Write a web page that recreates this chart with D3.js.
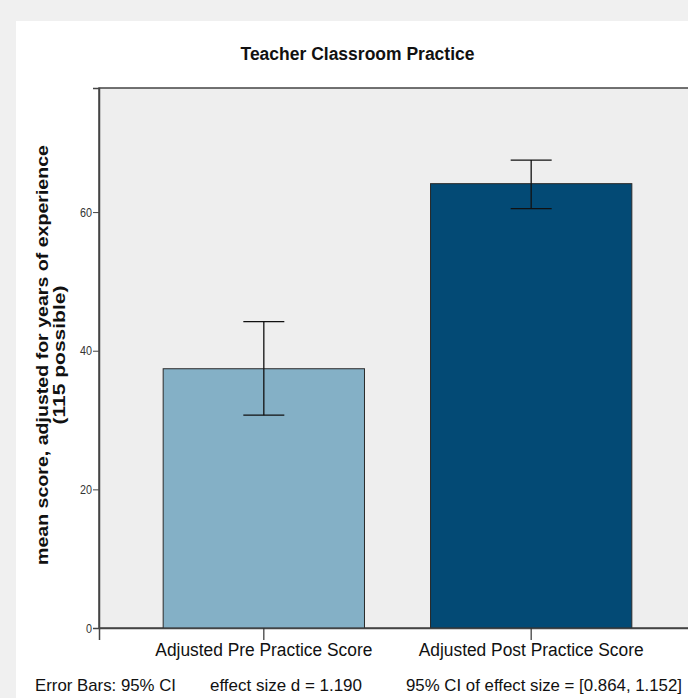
<!DOCTYPE html>
<html>
<head>
<meta charset="utf-8">
<script src="https://cdn.jsdelivr.net/npm/d3@7"></script>
<style>
body{margin:0;background:#f0f0f0;}
svg{display:block;}
text{font-family:"Liberation Sans Narrow","Arial Narrow","Liberation Sans",Arial,sans-serif;}
</style>
</head>
<body>
<div id="chart"></div>
<script>
// data
var categories = ["Adjusted Pre Practice Score", "Adjusted Post Practice Score"];
var means = [37.4, 64.1];
var ciLow = [30.7, 60.5];
var ciHigh = [44.2, 67.5];
var barColors = ["#84b0c6", "#034a75"];
var yTicks = [0, 20, 40, 60];
var footnotes = ["Error Bars: 95% CI", "effect size d = 1.190", "95% CI of effect size = [0.864, 1.152]"];

var w = 688, h = 698;
var plot = {left: 99, top: 88, right: 696, bottom: 628};

// squeeze text to the width it has in the original (narrow font there)
var fitText = function(sel, len){
    sel.attr("textLength", len).attr("lengthAdjust", "spacingAndGlyphs");
};

var svg = d3.select("#chart").append("svg").attr("width", w).attr("height", h);

// white panel
svg.append("rect").attr("x", 16).attr("y", 21).attr("width", w - 16).attr("height", h - 21).attr("fill", "#ffffff");

svg.append("text").text("Teacher Classroom Practice")
    .attr("x", 357.5).attr("y", 60)
    .attr("text-anchor", "middle")
    .style("font-size", "18px").style("font-weight", "bold").attr("fill", "#111")
    .call(fitText, 234);

var xScale = d3.scaleBand().domain(categories).range([plot.left, plot.right]).paddingInner(0.247).paddingOuter(0.24);
var yScale = d3.scaleLinear().domain([0, 77.9]).range([plot.bottom, plot.top]);

// plot background
svg.append("rect").attr("x", plot.left).attr("y", plot.top)
    .attr("width", plot.right - plot.left).attr("height", plot.bottom - plot.top)
    .attr("fill", "#eeeeee").attr("stroke", "#444").attr("stroke-width", 1.5);

var data = categories.map(function(c, i){
    return {cat: c, mean: means[i], lo: ciLow[i], hi: ciHigh[i], color: barColors[i]};
});

svg.selectAll("rect.bar").data(data).enter().append("rect")
    .attr("class", "bar")
    .attr("x", function(d){ return xScale(d.cat); })
    .attr("y", function(d){ return yScale(d.mean); })
    .attr("width", xScale.bandwidth())
    .attr("height", function(d){ return yScale(0) - yScale(d.mean); })
    .attr("fill", function(d){ return d.color; })
    .attr("stroke", "#2a2a2a").attr("stroke-width", 1);

// error bars
var capW = 41;
var cx = function(d){ return xScale(d.cat) + xScale.bandwidth()/2; };
var eb = svg.selectAll("g.err").data(data).enter().append("g").attr("class", "err")
    .attr("stroke", "#111").attr("stroke-width", 1.3);
eb.append("line")
    .attr("x1", cx).attr("x2", cx)
    .attr("y1", function(d){ return yScale(d.lo); })
    .attr("y2", function(d){ return yScale(d.hi); });
eb.append("line")
    .attr("x1", function(d){ return cx(d) - capW/2; })
    .attr("x2", function(d){ return cx(d) + capW/2; })
    .attr("y1", function(d){ return yScale(d.hi); })
    .attr("y2", function(d){ return yScale(d.hi); });
eb.append("line")
    .attr("x1", function(d){ return cx(d) - capW/2; })
    .attr("x2", function(d){ return cx(d) + capW/2; })
    .attr("y1", function(d){ return yScale(d.lo); })
    .attr("y2", function(d){ return yScale(d.lo); });

// y axis
var yAxis = d3.axisLeft(yScale).tickValues(yTicks).tickSize(6).tickPadding(1).tickFormat(d3.format("d"));
var yg = svg.append("g").attr("transform", "translate(" + plot.left + ",0)").call(yAxis);
yg.select(".domain").attr("stroke", "#444").attr("stroke-width", 1.5);
yg.selectAll(".tick line").attr("stroke", "#444");
yg.selectAll(".tick text").style("font-size", "13px").attr("fill", "#333")
    .each(function(d){ d3.select(this).call(fitText, String(d).length * 6); });

// x axis
var xAxis = d3.axisBottom(xScale).tickSize(12).tickPadding(3);
var xg = svg.append("g").attr("transform", "translate(0," + plot.bottom + ")").call(xAxis);
xg.select(".domain").attr("stroke", "#444").attr("stroke-width", 1.5);
xg.selectAll(".tick line").attr("stroke", "#333").attr("stroke-width", 1.2);
var catWidths = [217, 225];
xg.selectAll(".tick text").style("font-size", "18px").attr("fill", "#111")
    .each(function(d, i){ d3.select(this).call(fitText, catWidths[i]); });

// y title
var yt = svg.append("text")
    .attr("transform", "translate(48,355) rotate(-90)")
    .attr("text-anchor", "middle")
    .style("font-family", "'Liberation Sans',Arial,sans-serif")
    .style("font-size", "16.5px").style("font-weight", "bold").attr("fill", "#111");
yt.append("tspan").attr("x", 0).attr("y", 0).text("mean score, adjusted for years of experience").call(fitText, 420);
yt.append("tspan").attr("x", 0).attr("y", 17).text("(115 possible)").call(fitText, 139);

// footnotes
var footX = [35, 210, 406];
var footW = [141, 152, 276];
svg.selectAll("text.foot").data(footnotes).enter().append("text")
    .attr("class", "foot")
    .attr("x", function(d, i){ return footX[i]; })
    .attr("y", 691)
    .style("font-size", "17px").attr("fill", "#111")
    .text(function(d){ return d; })
    .each(function(d, i){ d3.select(this).call(fitText, footW[i]); });
</script>
</body>
</html>
